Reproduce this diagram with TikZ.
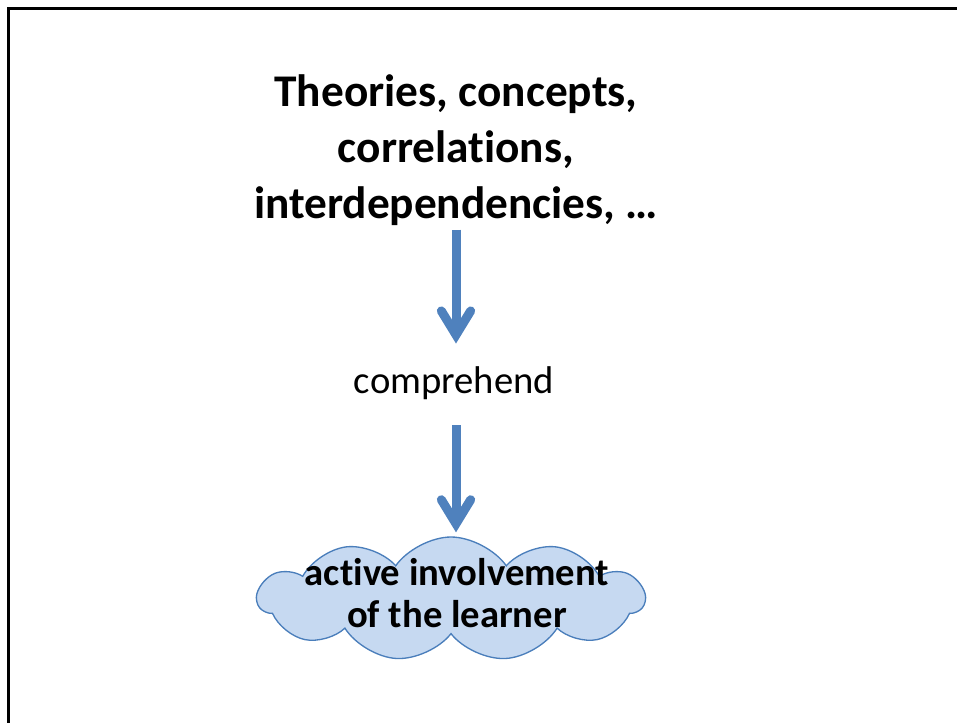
\documentclass[tikz,border=0pt]{standalone}
\usepackage{fontspec}
\setmainfont[Ligatures={NoCommon}, RawFeature={-liga;-clig}]{Carlito}
\usetikzlibrary{arrows.meta,shapes.symbols}
\definecolor{arrowblue}{HTML}{4F81BD}
\definecolor{cloudfill}{HTML}{C6D9F1}
\definecolor{cloudline}{HTML}{4A7EBB}
\tikzset{
  flowarrow/.style={arrowblue, line width=6.75pt,
    -{Straight Barb[length=18pt, width=22pt, line cap=round, line join=miter]}},
  bigtext/.style={align=center, inner sep=0pt, font=\fontsize{34}{42}\selectfont\bfseries},
  verbtext/.style={inner sep=0pt, font=\fontsize{29}{35}\selectfont},
  cloudbox/.style={cloud, cloud puffs=11, cloud puff arc=110, aspect=3.1,
    minimum width=290pt, minimum height=93pt, inner sep=0pt,
    fill=cloudfill, draw=cloudline, line width=1pt},
  cloudtext/.style={align=center, font=\fontsize{29}{32}\selectfont\bfseries}
}
\begin{document}
\begin{tikzpicture}[x=0.75pt, y=-0.75pt]
\useasboundingbox (0,0) rectangle (957,722);
% frame, cut off at right and bottom
\draw[line width=2.25pt] (8,730)--(8,8)--(965,8);
\node[bigtext] (theory) at (456,150) {Theories, concepts,\\correlations,\\interdependencies, …};
\node[verbtext] (comp) at (454,383) {comprehend};
\node[cloudbox] (cloud) at (451,599) {};
\node[cloudtext] (learner) at (457,593) {active involvement\\of the learner};
\draw[flowarrow, shorten <=3pt, shorten >=17pt] (theory.south) -- (theory.south |- comp.north);
\draw[flowarrow, shorten <=19pt, shorten >=3pt] (theory.south |- comp.south) -- (theory.south |- cloud.north);
\end{tikzpicture}
\end{document}
